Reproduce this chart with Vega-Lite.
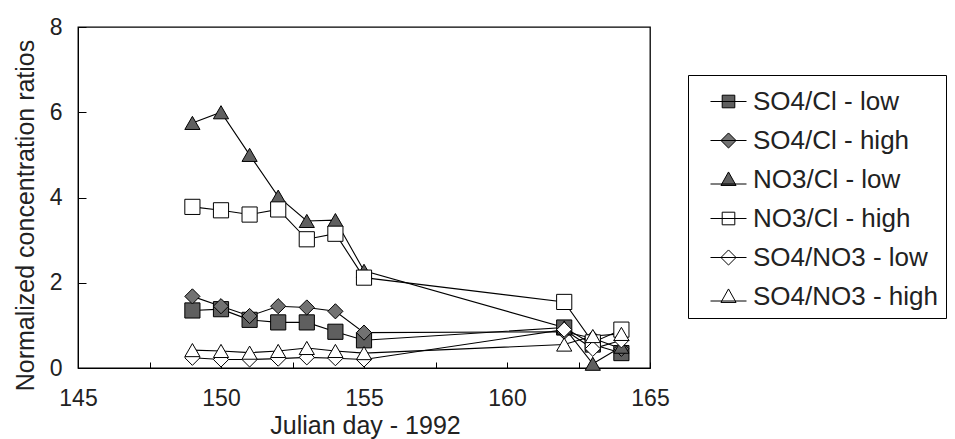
{
  "$schema": "https://vega.github.io/schema/vega-lite/v6.json",
  "width": 572,
  "height": 341,
  "autosize": "none",
  "padding": {"left": 78, "top": 27, "right": 305, "bottom": 71},
  "background": "white",
  "config": {
    "view": {"stroke": "black", "strokeWidth": 1.3},
    "font": "Liberation Sans",
    "axis": {"labelFont": "Liberation Sans", "titleFont": "Liberation Sans", "labelColor": "#222", "titleColor": "#222", "domainColor": "black", "tickColor": "black", "grid": false, "titleFontWeight": "normal"}
  },
  "data": {"values": [
    {"series": "SO4/Cl -   low", "day": 149, "ratio": 1.35},
    {"series": "SO4/Cl -   low", "day": 150, "ratio": 1.38},
    {"series": "SO4/Cl -   low", "day": 151, "ratio": 1.13},
    {"series": "SO4/Cl -   low", "day": 152, "ratio": 1.07},
    {"series": "SO4/Cl -   low", "day": 153, "ratio": 1.07},
    {"series": "SO4/Cl -   low", "day": 154, "ratio": 0.85},
    {"series": "SO4/Cl -   low", "day": 155, "ratio": 0.65},
    {"series": "SO4/Cl -   low", "day": 162, "ratio": 0.95},
    {"series": "SO4/Cl -   low", "day": 163, "ratio": 0.55},
    {"series": "SO4/Cl -   low", "day": 164, "ratio": 0.35},
    {"series": "SO4/Cl - high", "day": 149, "ratio": 1.68},
    {"series": "SO4/Cl - high", "day": 150, "ratio": 1.45},
    {"series": "SO4/Cl - high", "day": 151, "ratio": 1.22},
    {"series": "SO4/Cl - high", "day": 152, "ratio": 1.45},
    {"series": "SO4/Cl - high", "day": 153, "ratio": 1.42},
    {"series": "SO4/Cl - high", "day": 154, "ratio": 1.33},
    {"series": "SO4/Cl - high", "day": 155, "ratio": 0.83},
    {"series": "SO4/Cl - high", "day": 162, "ratio": 0.85},
    {"series": "SO4/Cl - high", "day": 163, "ratio": 0.7},
    {"series": "SO4/Cl - high", "day": 164, "ratio": 0.45},
    {"series": "NO3/Cl - low", "day": 149, "ratio": 5.75},
    {"series": "NO3/Cl - low", "day": 150, "ratio": 6.0},
    {"series": "NO3/Cl - low", "day": 151, "ratio": 5.0},
    {"series": "NO3/Cl - low", "day": 152, "ratio": 4.02},
    {"series": "NO3/Cl - low", "day": 153, "ratio": 3.45},
    {"series": "NO3/Cl - low", "day": 154, "ratio": 3.47},
    {"series": "NO3/Cl - low", "day": 155, "ratio": 2.28},
    {"series": "NO3/Cl - low", "day": 162, "ratio": 0.95},
    {"series": "NO3/Cl - low", "day": 163, "ratio": 0.1},
    {"series": "NO3/Cl - low", "day": 164, "ratio": 0.5},
    {"series": "NO3/Cl - high", "day": 149, "ratio": 3.78},
    {"series": "NO3/Cl - high", "day": 150, "ratio": 3.7},
    {"series": "NO3/Cl - high", "day": 151, "ratio": 3.6},
    {"series": "NO3/Cl - high", "day": 152, "ratio": 3.72},
    {"series": "NO3/Cl - high", "day": 153, "ratio": 3.02},
    {"series": "NO3/Cl - high", "day": 154, "ratio": 3.15},
    {"series": "NO3/Cl - high", "day": 155, "ratio": 2.12},
    {"series": "NO3/Cl - high", "day": 162, "ratio": 1.55},
    {"series": "NO3/Cl - high", "day": 163, "ratio": 0.6},
    {"series": "NO3/Cl - high", "day": 164, "ratio": 0.9},
    {"series": "SO4/NO3 - low", "day": 149, "ratio": 0.24},
    {"series": "SO4/NO3 - low", "day": 150, "ratio": 0.2},
    {"series": "SO4/NO3 - low", "day": 151, "ratio": 0.2},
    {"series": "SO4/NO3 - low", "day": 152, "ratio": 0.22},
    {"series": "SO4/NO3 - low", "day": 153, "ratio": 0.25},
    {"series": "SO4/NO3 - low", "day": 154, "ratio": 0.23},
    {"series": "SO4/NO3 - low", "day": 155, "ratio": 0.2},
    {"series": "SO4/NO3 - low", "day": 162, "ratio": 0.9},
    {"series": "SO4/NO3 - low", "day": 163, "ratio": 0.45},
    {"series": "SO4/NO3 - low", "day": 164, "ratio": 0.65},
    {"series": "SO4/NO3 - high", "day": 149, "ratio": 0.42},
    {"series": "SO4/NO3 - high", "day": 150, "ratio": 0.4},
    {"series": "SO4/NO3 - high", "day": 151, "ratio": 0.36},
    {"series": "SO4/NO3 - high", "day": 152, "ratio": 0.4},
    {"series": "SO4/NO3 - high", "day": 153, "ratio": 0.47},
    {"series": "SO4/NO3 - high", "day": 154, "ratio": 0.4},
    {"series": "SO4/NO3 - high", "day": 155, "ratio": 0.35},
    {"series": "SO4/NO3 - high", "day": 162, "ratio": 0.55},
    {"series": "SO4/NO3 - high", "day": 163, "ratio": 0.75},
    {"series": "SO4/NO3 - high", "day": 164, "ratio": 0.8}
  ]},
  "encoding": {
    "x": {"field": "day", "type": "quantitative",
      "scale": {"domain": [145, 165], "nice": false, "zero": false},
      "axis": {"values": [145, 147.5, 150, 152.5, 155, 157.5, 160, 162.5, 165],
        "labelExpr": "datum.value % 5 === 0 ? datum.label : ''",
        "title": "Julian day - 1992", "tickSize": -6, "labelPadding": 43, "labelBaseline": "alphabetic",
        "labelFontSize": 23, "labelFlush": false, "labelOverlap": false,
        "titleFontSize": 25, "titleX": 287, "titleY": 65, "titleBaseline": "alphabetic", "titleAnchor": "middle", "titleAlign": "center"}},
    "y": {"field": "ratio", "type": "quantitative",
      "scale": {"domain": [0, 8], "nice": false},
      "axis": {"values": [0, 2, 4, 6, 8], "title": "Normalized concentration ratios",
        "tickSize": -8, "labelPadding": 24, "labelFontSize": 23, "labelFlush": false,
        "titleFontSize": 25, "titleX": -45, "titleY": 188, "titleBaseline": "alphabetic", "titleAlign": "center", "titleAngle": -90}}
  },
  "layer": [
    {"mark": {"type": "line", "color": "black", "strokeWidth": 1.1},
     "encoding": {"detail": {"field": "series"}, "order": {"field": "day"}}},
    {"mark": {"type": "point", "size": 230, "stroke": "black", "strokeWidth": 1, "opacity": 1, "filled": false},
     "encoding": {
       "shape": {"field": "series", "legend": null,
         "scale": {"domain": ["SO4/Cl -   low", "SO4/Cl - high", "NO3/Cl - low", "NO3/Cl - high", "SO4/NO3 - low", "SO4/NO3 - high"],
                   "range": ["square", "diamond", "triangle-up", "square", "diamond", "triangle-up"]}},
       "fill": {"field": "series", "legend": null,
         "scale": {"domain": ["SO4/Cl -   low", "SO4/Cl - high", "NO3/Cl - low", "NO3/Cl - high", "SO4/NO3 - low", "SO4/NO3 - high"],
                   "range": ["#5f5f5f", "#727272", "#5f5f5f", "white", "white", "white"]}}}},
    {"mark": {"type": "point", "size": 230, "stroke": "black", "strokeWidth": 1, "opacity": 0, "filled": false},
     "encoding": {
       "shape": {"field": "series",
         "scale": {"domain": ["SO4/Cl -   low", "SO4/Cl - high", "NO3/Cl - low", "NO3/Cl - high", "SO4/NO3 - low", "SO4/NO3 - high"],
                   "range": ["M-1,0H1M-0.35,-0.35H0.35V0.35H-0.35Z", "M-1,0H1M0,-0.42L0.42,0L0,0.42L-0.42,0Z", "M-1,0.25H1M0,-0.42L0.42,0.33L-0.42,0.33Z", "M-1,0H1M-0.35,-0.35H0.35V0.35H-0.35Z", "M-1,0H1M0,-0.42L0.42,0L0,0.42L-0.42,0Z", "M-1,0.25H1M0,-0.42L0.42,0.33L-0.42,0.33Z"]},
         "legend": {"orient": "none", "legendX": 610, "legendY": 48, "title": null,
           "strokeColor": "black", "padding": 8, "symbolOffset": 14,
           "labelFontSize": 26, "labelFont": "Liberation Sans", "labelColor": "#222", "labelOffset": 6, "labelLimit": 400,
           "symbolSize": 1296, "rowPadding": 7, "symbolStrokeColor": "black", "symbolStrokeWidth": 1,
           "encode": {"symbols": {"update": {"opacity": {"value": 1}, "stroke": {"value": "black"}, "strokeWidth": {"value": 1}}}}}},
       "fill": {"field": "series",
         "scale": {"domain": ["SO4/Cl -   low", "SO4/Cl - high", "NO3/Cl - low", "NO3/Cl - high", "SO4/NO3 - low", "SO4/NO3 - high"],
                   "range": ["#5f5f5f", "#727272", "#5f5f5f", "white", "white", "white"]},
         "legend": {"orient": "none", "legendX": 610, "legendY": 48, "title": null,
           "strokeColor": "black", "padding": 8, "symbolOffset": 14,
           "labelFontSize": 26, "labelFont": "Liberation Sans", "labelColor": "#222", "labelOffset": 6, "labelLimit": 400,
           "symbolSize": 1296, "rowPadding": 7, "symbolStrokeColor": "black", "symbolStrokeWidth": 1,
           "encode": {"symbols": {"update": {"opacity": {"value": 1}, "stroke": {"value": "black"}, "strokeWidth": {"value": 1}}}}}}}}
  ],
  "resolve": {"scale": {"shape": "independent", "fill": "independent"}}
}
